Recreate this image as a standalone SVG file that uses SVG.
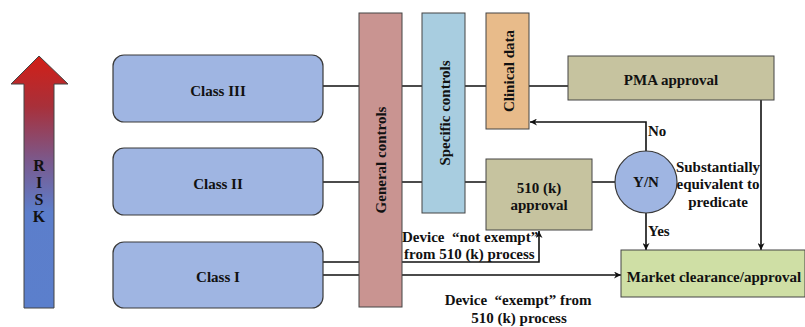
<svg xmlns="http://www.w3.org/2000/svg" width="805" height="327" viewBox="0 0 805 327">
  <style>
    .lbl { font-family: "Liberation Serif", "Times New Roman", serif; font-weight: bold; font-size: 15px; fill: #111; }
    .risk { font-size: 16px; }
    .cls { fill: #9fb5e2; stroke: #3a3a3a; stroke-width: 1.2; }
    .bar { stroke: #444; stroke-width: 1; }
    .olive { fill: #c6c39f; stroke: #444; stroke-width: 1; }
    .conn { fill: none; stroke: #111; stroke-width: 1.6; }
  </style>
  <defs>
    <linearGradient id="riskGrad" gradientUnits="userSpaceOnUse" x1="0" y1="56" x2="0" y2="308">
      <stop offset="0" stop-color="#d21f17"/>
      <stop offset="0.2" stop-color="#a8303a"/>
      <stop offset="0.42" stop-color="#7a5a8e"/>
      <stop offset="0.62" stop-color="#5c7ecb"/>
      <stop offset="1" stop-color="#5b7fcc"/>
    </linearGradient>
    <marker id="arr" viewBox="0 0 10 10" refX="10" refY="5" markerWidth="7" markerHeight="7" markerUnits="userSpaceOnUse" orient="auto">
      <path d="M0,0 L10,5 L0,10 L3,5 Z" fill="#111"/>
    </marker>
  </defs>

  <!-- risk scale arrow -->
  <g id="risk">
    <path d="M39,56 L68,84 L54,84 L54,308 L24,308 L24,84 L11,84 Z" fill="url(#riskGrad)" stroke="#444" stroke-width="1"/>
    <text class="lbl risk" x="39" y="171" text-anchor="middle">R</text>
    <text class="lbl risk" x="39" y="188" text-anchor="middle">I</text>
    <text class="lbl risk" x="39" y="205" text-anchor="middle">S</text>
    <text class="lbl risk" x="39" y="222" text-anchor="middle">K</text>
  </g>

  <!-- connectors -->
  <g id="connectors">
    <!-- Class III row -->
    <path class="conn" d="M323,86 H359 M402,86 H422 M465,86 H486 M529,86 H568"/>
    <!-- Class II row -->
    <path class="conn" d="M323,182 H359 M402,182 H422 M465,182 H486 M592,182 H615"/>
    <!-- Class I, not exempt -->
    <path class="conn" d="M323,262 H359 M402,262 H539 V231" marker-end="url(#arr)"/>
    <!-- Class I, exempt -->
    <path class="conn" d="M323,275 H359 M402,275 H621" marker-end="url(#arr)"/>
    <!-- No branch back to clinical data -->
    <path class="conn" d="M646,152 V122 H530" marker-end="url(#arr)"/>
    <!-- Yes branch -->
    <path class="conn" d="M646,213 V250" marker-end="url(#arr)"/>
    <!-- PMA to market -->
    <path class="conn" d="M761,100 V250" marker-end="url(#arr)"/>
  </g>

  <g id="class3">
    <rect class="cls" x="113" y="55" width="210" height="67" rx="11"/>
    <text class="lbl" x="218" y="96" text-anchor="middle">Class III</text>
  </g>
  <g id="class2">
    <rect class="cls" x="113" y="148" width="210" height="67" rx="11"/>
    <text class="lbl" x="218" y="189" text-anchor="middle">Class II</text>
  </g>
  <g id="class1">
    <rect class="cls" x="113" y="242" width="210" height="66" rx="11"/>
    <text class="lbl" x="218" y="282" text-anchor="middle">Class I</text>
  </g>

  <g id="general-controls">
    <rect class="bar" x="359" y="13" width="43" height="294" fill="#c99491"/>
    <text class="lbl" transform="translate(386,160) rotate(-90)" text-anchor="middle">General controls</text>
  </g>
  <g id="specific-controls">
    <rect class="bar" x="422" y="13" width="43" height="200" fill="#a8cde0"/>
    <text class="lbl" transform="translate(450,113) rotate(-90)" text-anchor="middle">Specific controls</text>
  </g>
  <g id="clinical-data">
    <rect class="bar" x="486" y="13" width="43" height="116" fill="#e8bb8a"/>
    <text class="lbl" transform="translate(514,71) rotate(-90)" text-anchor="middle">Clinical data</text>
  </g>

  <g id="pma">
    <rect class="olive" x="568" y="56" width="206" height="44"/>
    <text class="lbl" x="671" y="85" text-anchor="middle">PMA approval</text>
  </g>

  <g id="k510">
    <rect class="olive" x="486" y="159" width="106" height="71"/>
    <text class="lbl" x="539" y="193" text-anchor="middle">510 (k)</text>
    <text class="lbl" x="539" y="210" text-anchor="middle">approval</text>
  </g>

  <g id="decision">
    <circle cx="646" cy="182" r="31" fill="#9fb5e2" stroke="#3a3a3a" stroke-width="1.2"/>
    <text class="lbl" x="646" y="187" text-anchor="middle">Y/N</text>
  </g>

  <g id="market">
    <rect x="621" y="250" width="184" height="47" fill="#cfdfa5" stroke="#444" stroke-width="1"/>
    <text class="lbl" x="714" y="282" text-anchor="middle">Market clearance/approval</text>
  </g>

  <g id="labels">
    <text class="lbl" x="648" y="136">No</text>
    <text class="lbl" x="648" y="236">Yes</text>
    <text class="lbl" x="718" y="172" text-anchor="middle">Substantially</text>
    <text class="lbl" x="718" y="189" text-anchor="middle">equivalent to</text>
    <text class="lbl" x="718" y="207" text-anchor="middle">predicate</text>
    <text class="lbl" x="402" y="242" xml:space="preserve">Device  “not exempt”</text>
    <text class="lbl" x="404" y="259">from 510 (k) process</text>
    <text class="lbl" x="518" y="305" text-anchor="middle" xml:space="preserve">Device  “exempt” from</text>
    <text class="lbl" x="519" y="323" text-anchor="middle">510 (k) process</text>
  </g>
</svg>
